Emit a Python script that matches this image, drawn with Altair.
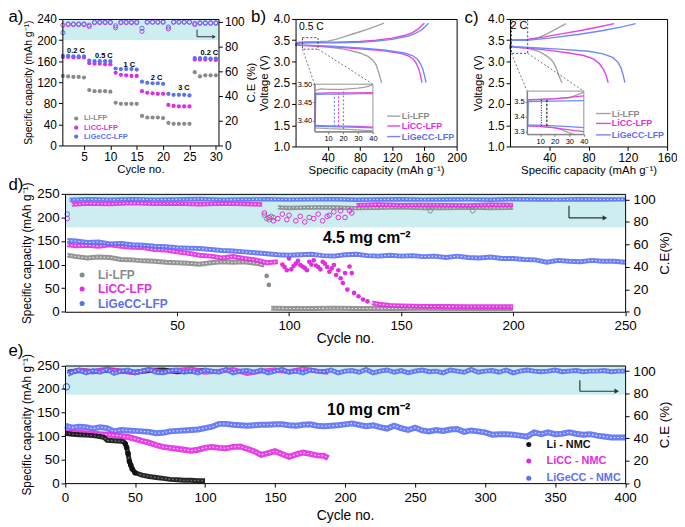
import altair as alt
import pandas as pd

FONT = "Liberation Sans"
GRAY = "#8a8a8a"
MAG = "#e12de1"
BLUE = "#5b70f2"
BLACK = "#111111"
LGRAY = "#a3a3a3"
LMAG = "#e544e5"
LBLUE = "#7189f6"
CYAN = "#cdeef0"
INK = "#333333"

# ---------------- (a) rate capability ----------------
cycles_a = list(range(1, 31))
cap_a_li = [132,131,130,130,129,105,103,103,103,102,81,79,79,79,79,56,53,53,53,52,43,41,41,41,41,139,131,133,133,133]
cap_a_licc = [168,168,167,167,167,156,155,155,154,154,138,134,133,132,132,103,100,99,98,98,77,75,74,74,74,163,163,163,163,162]
cap_a_ligecc = [170,170,169,169,169,161,160,160,160,160,146,145,145,145,144,121,119,118,118,117,98,96,96,96,95,166,166,166,165,165]
ce_a_licc = [97,97.5,97.5,97.5,97.5,96,99,99,99,99,95,99,99,99,99,92,99.5,99.5,99.5,99.5,94,99.5,99.5,99.5,99.5,97.5,98.5,98.5,98.5,98.5]
ce_a_ligecc = [91,98,98,98,98,97,99.5,99.5,99.5,99.5,96.5,99.5,99.5,99.5,99.5,94.5,99.5,99.5,99.5,99.5,95.5,99.5,99.5,99.5,99.5,98.5,99,99,99,99]
rate_labels = ["0.2 C", "0.5 C", "1 C", "2 C", "3 C", "0.2 C"]
series_lfp = ["Li-LFP", "LiCC-LFP", "LiGeCC-LFP"]
series_nmc = ["Li - NMC", "LiCC - NMC", "LiGeCC - NMC"]

# ---------------- (b) 0.5 C profiles ----------------
b_li_chg_x = [0,2,10,20,30,40,50,60,70,80,90,100,110]
b_li_chg_v = [3.36,3.44,3.46,3.465,3.47,3.48,3.52,3.58,3.64,3.70,3.76,3.83,3.90]
b_li_dis_x = [0,3,10,20,40,60,80,90,96,100,103,105,107]
b_li_dis_v = [3.42,3.39,3.38,3.37,3.34,3.29,3.20,3.12,3.03,2.92,2.75,2.62,2.50]
b_licc_chg_x = [0,3,20,50,80,100,120,135,145,152,157,160]
b_licc_chg_v = [3.38,3.45,3.45,3.455,3.47,3.50,3.55,3.61,3.68,3.76,3.85,3.90]
b_licc_dis_x = [0,5,20,50,80,110,130,140,146,150,153,155,157]
b_licc_dis_v = [3.40,3.38,3.37,3.34,3.30,3.25,3.19,3.13,3.06,2.95,2.82,2.68,2.50]
b_ligecc_chg_x = [0,3,20,50,80,100,120,140,150,157,162,165]
b_ligecc_chg_v = [3.36,3.43,3.44,3.44,3.45,3.48,3.52,3.60,3.67,3.75,3.84,3.90]
b_ligecc_dis_x = [0,5,20,50,80,110,135,145,151,155,158,160,162]
b_ligecc_dis_v = [3.41,3.39,3.38,3.355,3.32,3.27,3.20,3.14,3.06,2.95,2.82,2.68,2.50]
# inset (b)
bi_li_chg_x = [1,5,10,20,30,35,40]
bi_li_chg_v = [3.482,3.487,3.486,3.486,3.489,3.492,3.499]
bi_li_dis_x = [1,10,20,30,40]
bi_li_dis_v = [3.380,3.378,3.377,3.375,3.372]
bi_licc_chg_x = [1,1.5,10,20,30,40]
bi_licc_chg_v = [3.40,3.475,3.476,3.476,3.476,3.477]
bi_licc_dis_x = [1,10,20,30,40]
bi_licc_dis_v = [3.387,3.386,3.385,3.384,3.382]
bi_ligecc_chg_x = [1.3,1.8,10,20,30,40]
bi_ligecc_chg_v = [3.385,3.472,3.473,3.473,3.474,3.474]
bi_ligecc_dis_x = [1,10,20,30,40]
bi_ligecc_dis_v = [3.385,3.384,3.383,3.382,3.380]
bi_mark_x = [14.2, 17.0, 20.2]
bi_mark_lo = [3.384, 3.385, 3.377]
bi_mark_hi = [3.473, 3.476, 3.486]

# ---------------- (c) 2 C profiles ----------------
c_li_chg_x = [0,1,10,20,28,35,42,50,57]
c_li_chg_v = [3.30,3.50,3.51,3.52,3.55,3.62,3.70,3.80,3.89]
c_li_dis_x = [0,2,10,20,30,38,42,45,47,49,51,53]
c_li_dis_v = [3.38,3.34,3.33,3.30,3.23,3.12,3.04,2.95,2.85,2.72,2.60,2.50]
c_licc_chg_x = [0,1,17,35,55,72,90,106]
c_licc_chg_v = [3.30,3.50,3.52,3.58,3.66,3.73,3.81,3.89]
c_licc_dis_x = [0,5,20,40,60,75,85,91,95,98,100]
c_licc_dis_v = [3.36,3.34,3.31,3.26,3.20,3.14,3.06,2.95,2.82,2.67,2.50]
c_ligecc_chg_x = [0,1,17,40,71,95,115,128]
c_ligecc_chg_v = [3.30,3.50,3.50,3.55,3.64,3.73,3.82,3.89]
c_ligecc_dis_x = [0,5,20,50,80,95,105,110,113,115,117]
c_ligecc_dis_v = [3.37,3.35,3.33,3.29,3.24,3.18,3.09,2.98,2.85,2.70,2.50]
# inset (c)
ci_li_chg_x = [1,10,20,30,34,38,40]
ci_li_chg_v = [3.51,3.515,3.518,3.525,3.54,3.555,3.565]
ci_li_dis_x = [1,10,20,25,30,33]
ci_li_dis_v = [3.335,3.333,3.325,3.31,3.29,3.28]
ci_licc_chg_x = [1,10,20,30,40]
ci_licc_chg_v = [3.512,3.515,3.52,3.528,3.538]
ci_licc_dis_x = [1,10,20,30,40]
ci_licc_dis_v = [3.338,3.333,3.323,3.31,3.298]
ci_ligecc_chg_x = [1.5,1.8,10,20,30,40]
ci_ligecc_chg_v = [3.34,3.50,3.502,3.503,3.504,3.506]
ci_ligecc_dis_x = [1,10,20,30,40]
ci_ligecc_dis_v = [3.342,3.341,3.337,3.332,3.325]
ci_mark_x = [10.8, 14.6]
ci_mark_lo = [3.338, 3.336]
ci_mark_hi = [3.513, 3.515]

# ---------------- (d) 4.5 mg cm-2, LFP ----------------
d_li_cyc = [1,5,10,15,20,25,30,35,40,45,50,55,60,65,70,75,80,85,89]
d_li_cap = [120,117,114,116,115,111,110,108,107,105,104,103,101,104,106,105,106,103,99]
d_li_drop_cyc = [90, 91]
d_li_drop_cap = [76, 57]
d_li_low_cyc = [92,100,110,120,130,140,150,160,170,180,190,200]
d_li_low_cap = [7.5,7,7,7.5,7,7,7,7.5,7,7,7,7]
d_licc_cyc = [1,5,10,15,20,25,30,35,40,45,50,55,60,65,70,75,80,85,90,95]
d_licc_cap = [142,140,141,139,142,139,137,136,132,131,127,124,120,118,114,117,113,110,104,106]
d_licc_sc_cyc = [97,98,99,100,101,102,103,104,105,106,107,108,109,110,111,112,113,114,115,116,117,118,119,120,121,122,123,124,125,126,127,128,129,131,133,135]
d_licc_sc_cap = [100,95,88,113,90,97,102,108,99,96,93,88,106,100,109,98,95,90,106,102,95,85,92,99,78,88,71,61,82,47,96,82,40,33,26,22]
d_licc_low_cyc = [137,140,145,150,155,160,170,180,190,200]
d_licc_low_cap = [19,16,13.5,12.5,12,11.5,11,10.5,10.5,10.5]
d_ligecc_cyc = [1] + list(range(5, 251, 5))
d_ligecc_cap = [151,150,147,148,144,145,142,141,139,138,136,135,134,132,130,129,127,125,123,121,
                120,121,122,119,118,121,122,119,118,120,118,119,117,118,115,118,115,114,116,113,
                113,111,110,105,109,107,106,109,107,107,105]
d_ce_ligecc_first = [87]
d_ce_ligecc_cyc = [2] + list(range(10, 251, 10))
d_ce_ligecc = [99.5,100.2,99.8,100.3,99.9,100.1,100.4,99.8,100,100.2,99.9,100.1,100.3,99.8,100,100.2,
               99.9,100,100.1,99.8,100.2,100,99.9,100.3,100,100.1]
d_ce_licc_first = [83]
d_ce_licc_cyc = [3,10,20,30,40,50,60,70,80,88]
d_ce_licc = [95.5,96.5,96,96.8,96.2,96.5,95.8,96.3,96,95.5]
d_ce_licc_sc_cyc = [89,91,93,95,97,99,100,103,105,107,109,111,113,115,117,118,120,122,123,125,127,128]
d_ce_licc_sc = [88,84,81,83,87,82,86,81,85,80,84,83,87,81,85,86,89,84,90,84,90,88]
d_ce_licc2_cyc = [130,140,150,160,170,180,190,200]
d_ce_licc2 = [95,95.5,94.8,95.2,95,94.7,95.3,95]
d_ce_li_sc_cyc = [89,90,91,92,93,163,182]
d_ce_li_sc = [86,83,82,85,84,90,90]
d_ce_li_cyc = [95,100,110,120,130,140,150,160,170,180,190,200]
d_ce_li = [93,92.5,93,92.8,92.3,92.6,93,92.5,92.4,92.8,92.5,92.6]

# ---------------- (e) 10 mg cm-2, NMC ----------------
e_li_cyc = [0,5,10,15,20,25,28,30,35,40,42,43,44,45,46,47,48,50,55,60,65,70,75,80,85,90,95,100]
e_li_cap = [106,104,103,102,101,99,97,91,90,89,88,84,76,63,46,38,30,22,17,14,12,10,8,7,6,6,5,5]
e_licc_cyc = list(range(0, 186, 5)) + [188]
e_licc_cap = [108,107,107,106,105,104,103,102,100,98,94,90,86,81,77,75,73,71,69,71,
              75,77,75,74,77,78,73,68,60,64,68,62,56,61,65,62,59,58,53]
e_ligecc_cyc = list(range(0, 401, 5))
e_ligecc_cap = [122,118,120,119,116,119,117,110,113,112,111,110,109,106,107,110,111,112,113,114,
                117,120,126,126,124,123,122,123,124,124,125,125,123,122,124,125,122,121,122,123,
                125,127,124,121,123,119,116,122,117,113,118,112,110,113,111,114,115,109,112,110,
                108,103,104,104,103,101,99,108,104,108,104,105,108,105,103,104,101,99,97,97,97]
e_ce_ligecc_first = [86]
e_ce_ligecc_cyc = [2] + list(range(5, 401, 5))
e_ce_ligecc = [97,99,101,98.5,100.5,99,101.5,98,100,101,
               98.5,100,101.5,99,98.5,100.5,101,99,100,98.5,
               101,100,99,101.5,98.5,100,100.5,99,101,98.5,
               100,101.5,99,100,98.5,101,100,99.5,101,98.5,
               100,100.5,99,101.5,98.5,100,101,99,100.5,98.5,
               100,101,99.5,100,98.5,101,100,99,101.5,99,
               100,100.5,99,101,98.5,100,101,100,99.5,100,
               101,99.5,100,100.5,99.5,100,100,100.5,99.5,100,
               100]
e_ce_licc_cyc = [2] + list(range(10, 181, 10)) + [188]
e_ce_licc = [98,101,99.5,102,100,98.5,101.5,99,100.5,102,99,100,101.5,98,100,101,99.5,102,100,99]
e_ce_li_cyc = [2,10,20,30,40,50,60,70,80,90,100]
e_ce_li = [99,100.5,99.5,101,100,99,100.5,101,99.5,100,100.5]

# ---------------- layout helpers ----------------
M = 8
W, H = 677, 519


def S(dom, r0, r1):
    return alt.Scale(domain=list(dom), range=[r0 - M, r1 - M], nice=False, zero=False)


def off(orient, pos):
    p = pos - M
    return {"left": -p, "top": -p, "right": p - W, "bottom": p - H}[orient]


AX = dict(grid=False, zindex=1, domainColor="black", tickColor="black", labelColor="black",
          titleColor="black", labelFont=FONT, titleFont=FONT, titleFontWeight="normal",
          labelFlush=False, tickSize=4, labelPadding=2)


def axis(orient, pos, **kw):
    d = dict(AX)
    d.update(kw)
    return alt.Axis(orient=orient, offset=off(orient, pos), **d)


def frame(orient, pos):
    return axis(orient, pos, labels=False, ticks=False, title=None)


def guide(sx, sy, xd, yd, xa=None, ya=None):
    df = pd.DataFrame({"gx": [xd[0], xd[-1]], "gy": [yd[0], yd[-1]]})
    return alt.Chart(df).mark_point(opacity=0).encode(
        x=alt.X("gx:Q", scale=sx, axis=xa), y=alt.Y("gy:Q", scale=sy, axis=ya))


def pts(xs, ys, sx, sy, color, size=20, filled=True, sw=1.0):
    df = pd.DataFrame({"x": xs, "y": ys})
    return alt.Chart(df).mark_point(filled=filled, size=size, color=color, strokeWidth=sw,
                                    opacity=1, shape="circle").encode(
        x=alt.X("x:Q", scale=sx, axis=None), y=alt.Y("y:Q", scale=sy, axis=None))


def line(xs, ys, sx, sy, color, width=1.5, dash=None, opacity=1.0):
    df = pd.DataFrame({"x": xs, "y": ys, "o": list(range(len(xs)))})
    kw = dict(color=color, strokeWidth=width, opacity=opacity)
    if dash:
        kw["strokeDash"] = dash
    return alt.Chart(df).mark_line(**kw).encode(
        x=alt.X("x:Q", scale=sx, axis=None), y=alt.Y("y:Q", scale=sy, axis=None), order="o:Q")


def band(xs, ys, sx, sy, color, width=5, inner="white"):
    return [line(xs, ys, sx, sy, color, width, opacity=0.9),
            line(xs, ys, sx, sy, inner, 1.1, dash=[1.5, 2.2], opacity=0.8)]


def rect(x0, x1, y0, y1, sx, sy, **mk):
    df = pd.DataFrame({"x": [x0], "x2": [x1], "y": [y0], "y2": [y1]})
    return alt.Chart(df).mark_rect(**mk).encode(
        x=alt.X("x:Q", scale=sx, axis=None), x2="x2:Q",
        y=alt.Y("y:Q", scale=sy, axis=None), y2="y2:Q")


def vrules(xs, lo, hi, sx, sy, colors, dash):
    df = pd.DataFrame({"x": xs, "y": lo, "y2": hi, "c": colors})
    return alt.Chart(df).mark_rule(strokeWidth=1, strokeDash=dash).encode(
        x=alt.X("x:Q", scale=sx, axis=None), y=alt.Y("y:Q", scale=sy, axis=None), y2="y2:Q",
        color=alt.Color("c:N", scale=None))


def connect(xd, yd, sx, sy, px2, py2):
    df = pd.DataFrame({"x": [xd], "y": [yd]})
    return alt.Chart(df).mark_rule(color="#555", strokeDash=[2, 2], strokeWidth=0.8).encode(
        x=alt.X("x:Q", scale=sx, axis=None), y=alt.Y("y:Q", scale=sy, axis=None),
        x2=alt.value(px2 - M), y2=alt.value(py2 - M))


def ptext(rows, size, weight="normal", align="left"):
    df = pd.DataFrame(rows, columns=["x", "y", "t", "c"])
    df["x"] = df["x"] - M
    df["y"] = df["y"] - M
    return alt.Chart(df).mark_text(font=FONT, fontSize=size, fontWeight=weight, align=align,
                                   baseline="middle").encode(
        x=alt.X("x:Q", scale=None, axis=None), y=alt.Y("y:Q", scale=None, axis=None),
        text="t:N", color=alt.Color("c:N", scale=None))


def prules(rows, width=1.0):
    df = pd.DataFrame(rows, columns=["x", "y", "x2", "y2", "c"])
    for k in ["x", "y", "x2", "y2"]:
        df[k] = df[k] - M
    return alt.Chart(df).mark_rule(strokeWidth=width).encode(
        x=alt.X("x:Q", scale=None, axis=None), y=alt.Y("y:Q", scale=None, axis=None),
        x2="x2:Q", y2="y2:Q", color=alt.Color("c:N", scale=None))


def pmarks(rows, shape="circle", size=20, filled=True):
    df = pd.DataFrame(rows, columns=["x", "y", "c"])
    df["x"] = df["x"] - M
    df["y"] = df["y"] - M
    return alt.Chart(df).mark_point(shape=shape, size=size, filled=filled, opacity=1).encode(
        x=alt.X("x:Q", scale=None, axis=None), y=alt.Y("y:Q", scale=None, axis=None),
        color=alt.Color("c:N", scale=None))


layers = []

# ================= panel a =================
XA = S([0.9, 30.5], 63, 221)
YA = S([0, 240], 144, 16)
CEA = S([0, 102], 144, 16)
layers.append(rect(0.9, 30.5, 200, 240, XA, YA, color=CYAN))
layers.append(guide(XA, YA, [0.9, 30.5], [0, 240],
                    xa=axis("bottom", 144, values=[5, 10, 15, 20, 25, 30], title="Cycle no.",
                            labelFontSize=12, titleFontSize=11.5, titlePadding=1),
                    ya=axis("left", 63, values=[0, 40, 80, 120, 160, 200, 240],
                            title="Specific capacity (mAh g⁻¹)", labelFontSize=12,
                            titleFontSize=10.5, titlePadding=3)))
layers.append(guide(XA, CEA, [0.9, 30.5], [0, 102], xa=frame("top", 16),
                    ya=axis("right", 221, values=[0, 20, 40, 60, 80, 100], title="C.E (%)",
                            labelFontSize=12, titleFontSize=11.5, titlePadding=1, titleAngle=270,
                            titleBaseline="top")))
layers.append(pts(cycles_a, cap_a_li, XA, YA, GRAY, size=18))
layers.append(pts(cycles_a, cap_a_licc, XA, YA, MAG, size=18))
layers.append(pts(cycles_a, cap_a_ligecc, XA, YA, BLUE, size=18))
layers.append(pts(cycles_a, ce_a_licc, XA, CEA, MAG, size=18, filled=False))
layers.append(pts(cycles_a, ce_a_ligecc, XA, CEA, BLUE, size=18, filled=False))
layers.append(ptext([(76.7, 48.3, rate_labels[0], "black"), (105, 53.3, rate_labels[1], "black"),
                     (130.7, 62.7, rate_labels[2], "black"), (158.3, 76, rate_labels[3], "black"),
                     (186, 86, rate_labels[4], "black"), (211.7, 50, rate_labels[5], "black")],
                    7.5, "bold", "center"))
layers.append(pmarks([(77, 116.7, GRAY), (77, 126, MAG), (77, 135, BLUE)], size=18))
layers.append(ptext([(85, 116.7, series_lfp[0], GRAY), (85, 126, series_lfp[1], MAG),
                     (85, 135, series_lfp[2], BLUE)], 7.5, "bold"))
layers.append(prules([(199.3, 26.7, 199.3, 34, INK), (199.3, 34, 215, 34, INK)], 1.0))
layers.append(pmarks([(216.5, 34, INK)], shape="triangle-right", size=16))

# ================= panel b =================
XB = S([0, 200], 299, 462)
YB = S([1, 4], 145, 16)
XBI = S([1, 40], 318.3, 377.3)
YBI = S([3.37, 3.50], 130, 82)
layers.append(guide(XB, YB, [0, 200], [1, 4],
                    xa=axis("bottom", 145, values=[40, 80, 120, 160, 200],
                            title="Specific capacity (mAh g⁻¹)", labelFontSize=12,
                            titleFontSize=11.5, titlePadding=1),
                    ya=axis("left", 299, values=[1.0, 1.5, 2.0, 2.5, 3.0, 3.5, 4.0], format=".1f",
                            title="Voltage (V)", labelFontSize=12, titleFontSize=11.5,
                            titlePadding=4)))
layers.append(guide(XB, YB, [0, 200], [1, 4], xa=frame("top", 16), ya=frame("right", 462)))
for xs, vs, c in [(b_li_chg_x, b_li_chg_v, LGRAY), (b_li_dis_x, b_li_dis_v, LGRAY),
                  (b_licc_chg_x, b_licc_chg_v, LMAG), (b_licc_dis_x, b_licc_dis_v, LMAG),
                  (b_ligecc_chg_x, b_ligecc_chg_v, LBLUE), (b_ligecc_dis_x, b_ligecc_dis_v, LBLUE)]:
    layers.append(line(xs, vs, XB, YB, c, 1.4))
layers.append(rect(8.6, 27.9, 3.29, 3.56, XB, YB, fillOpacity=0, stroke="#444",
                   strokeDash=[2, 2], strokeWidth=1))
layers.append(connect(8.6, 3.29, XB, YB, 318.3, 82))
layers.append(connect(27.9, 3.29, XB, YB, 377.3, 82))
layers.append(rect(1, 40, 3.37, 3.50, XBI, YBI, fill="white", stroke="#777", strokeWidth=0.8))
layers.append(guide(XBI, YBI, [1, 40], [3.37, 3.50],
                    xa=axis("bottom", 130, values=[10, 20, 30, 40], title=None, labelFontSize=7.5,
                            tickSize=2, labelPadding=1, domainColor="#777", tickColor="#777"),
                    ya=axis("left", 318.3, values=[3.40, 3.45, 3.50], format=".2f", title=None,
                            labelFontSize=7.5, tickSize=2, labelPadding=1, domainColor="#777",
                            tickColor="#777")))
for xs, vs, c in [(bi_li_chg_x, bi_li_chg_v, LGRAY), (bi_li_dis_x, bi_li_dis_v, LGRAY),
                  (bi_licc_chg_x, bi_licc_chg_v, LMAG), (bi_licc_dis_x, bi_licc_dis_v, LMAG),
                  (bi_ligecc_chg_x, bi_ligecc_chg_v, LBLUE), (bi_ligecc_dis_x, bi_ligecc_dis_v, LBLUE)]:
    layers.append(line(xs, vs, XBI, YBI, c, 1.3))
layers.append(vrules(bi_mark_x, bi_mark_lo, bi_mark_hi, XBI, YBI, [BLUE, MAG, "#777"], [2, 2]))
layers.append(ptext([(315, 24, "0.5 C", "black")], 10.5, "normal", "center"))
layers.append(prules([(391.7, 114.3, 405, 114.3, LGRAY), (391.7, 124.3, 405, 124.3, LMAG),
                      (391.7, 135, 405, 135, LBLUE)], 1.4))
layers.append(ptext([(406.5, 114.3, series_lfp[0], GRAY), (406.5, 124.3, series_lfp[1], MAG),
                     (406.5, 135, series_lfp[2], BLUE)], 9, "bold"))

# ================= panel c =================
XC = S([0, 160], 516, 675)
YC = S([1, 4], 145, 16)
XCI = S([1, 40], 533.3, 590.7)
YCI = S([3.28, 3.57], 132.7, 89)
layers.append(guide(XC, YC, [0, 160], [1, 4],
                    xa=axis("bottom", 145, values=[40, 80, 120, 160],
                            title="Specific capacity (mAh g⁻¹)", labelFontSize=12,
                            titleFontSize=11.5, titlePadding=1),
                    ya=axis("left", 516, values=[1.0, 1.5, 2.0, 2.5, 3.0, 3.5, 4.0], format=".1f",
                            title="Voltage (V)", labelFontSize=12, titleFontSize=11.5,
                            titlePadding=4)))
layers.append(guide(XC, YC, [0, 160], [1, 4], xa=frame("top", 16), ya=frame("right", 675)))
for xs, vs, c in [(c_li_chg_x, c_li_chg_v, LGRAY), (c_li_dis_x, c_li_dis_v, LGRAY),
                  (c_licc_chg_x, c_licc_chg_v, LMAG), (c_licc_dis_x, c_licc_dis_v, LMAG),
                  (c_ligecc_chg_x, c_ligecc_chg_v, LBLUE), (c_ligecc_dis_x, c_ligecc_dis_v, LBLUE)]:
    layers.append(line(xs, vs, XC, YC, c, 1.4))
layers.append(rect(1.5, 18, 3.19, 3.98, XC, YC, fillOpacity=0, stroke="#444",
                   strokeDash=[2, 2], strokeWidth=1))
layers.append(connect(1.5, 3.19, XC, YC, 533.3, 89))
layers.append(connect(18, 3.19, XC, YC, 590.7, 89))
layers.append(rect(1, 40, 3.28, 3.57, XCI, YCI, fill="white", stroke="#777", strokeWidth=0.8))
layers.append(guide(XCI, YCI, [1, 40], [3.28, 3.57],
                    xa=axis("bottom", 132.7, values=[10, 20, 30, 40], title=None, labelFontSize=7.5,
                            tickSize=2, labelPadding=1, domainColor="#777", tickColor="#777"),
                    ya=axis("left", 533.3, values=[3.3, 3.4, 3.5], format=".1f", title=None,
                            labelFontSize=7.5, tickSize=2, labelPadding=1, domainColor="#777",
                            tickColor="#777")))
for xs, vs, c in [(ci_li_chg_x, ci_li_chg_v, LGRAY), (ci_li_dis_x, ci_li_dis_v, LGRAY),
                  (ci_licc_chg_x, ci_licc_chg_v, LMAG), (ci_licc_dis_x, ci_licc_dis_v, LMAG),
                  (ci_ligecc_chg_x, ci_ligecc_chg_v, LBLUE), (ci_ligecc_dis_x, ci_ligecc_dis_v, LBLUE)]:
    layers.append(line(xs, vs, XCI, YCI, c, 1.3))
layers.append(vrules(ci_mark_x[:1], ci_mark_lo[:1], ci_mark_hi[:1], XCI, YCI, ["black"], [1, 1.5]))
layers.append(vrules(ci_mark_x[1:], ci_mark_lo[1:], ci_mark_hi[1:], XCI, YCI, ["black"], [2.5, 1.5]))
layers.append(ptext([(525, 23, "2 C", "black")], 11, "normal", "center"))
layers.append(prules([(603, 111.7, 618, 111.7, LGRAY), (603, 121.7, 618, 121.7, LMAG),
                      (603, 133.3, 618, 133.3, LBLUE)], 1.4))
layers.append(ptext([(619, 111.7, series_lfp[0], GRAY), (619, 121.7, series_lfp[1], MAG),
                     (619, 133.3, series_lfp[2], BLUE)], 9, "bold"))

# ================= panel d =================
XD = S([0, 250], 65.7, 632.5)
YD = S([0, 250], 312.3, 193)
CED = S([0, 105], 312.3, 193)
layers.append(rect(0, 250, 75, 105, XD, CED, color=CYAN))
layers.append(guide(XD, YD, [0, 250], [0, 250],
                    xa=axis("bottom", 312.3, values=[50, 100, 150, 200, 250], title="Cycle no.",
                            labelFontSize=13.5, titleFontSize=14, titlePadding=0, labelPadding=3),
                    ya=axis("left", 65.7, values=[0, 50, 100, 150, 200, 250],
                            title="Specific capacity (mAh g⁻¹)", labelFontSize=13.5,
                            titleFontSize=12, titlePadding=3)))
layers.append(guide(XD, CED, [0, 250], [0, 105], xa=frame("top", 193),
                    ya=axis("right", 632.5, values=[0, 20, 40, 60, 80, 100], title="C.E(%)",
                            labelFontSize=13.5, titleFontSize=13.5, titlePadding=2, titleAngle=270,
                            titleBaseline="top", labelPadding=4)))
# CE (top band)
layers += band(d_ce_li_cyc, d_ce_li, XD, CED, GRAY, 4.5)
layers.append(pts(d_ce_li_sc_cyc, d_ce_li_sc, XD, CED, GRAY, size=22, filled=False))
layers += band(d_ce_licc_cyc, d_ce_licc, XD, CED, MAG, 4.5)
layers += band(d_ce_licc2_cyc, d_ce_licc2, XD, CED, MAG, 4.5)
layers.append(pts(d_ce_licc_sc_cyc, d_ce_licc_sc, XD, CED, MAG, size=22, filled=False))
layers.append(pts([1], d_ce_licc_first, XD, CED, MAG, size=22, filled=False))
layers += band(d_ce_ligecc_cyc, d_ce_ligecc, XD, CED, BLUE, 4.5)
layers.append(pts([1], d_ce_ligecc_first, XD, CED, BLUE, size=22, filled=False))
# capacity
layers += band(d_li_cyc, d_li_cap, XD, YD, GRAY, 5)
layers.append(pts(d_li_drop_cyc, d_li_drop_cap, XD, YD, GRAY, size=22))
layers += band(d_li_low_cyc, d_li_low_cap, XD, YD, GRAY, 5)
layers += band(d_licc_cyc, d_licc_cap, XD, YD, MAG, 5)
layers.append(pts(d_licc_sc_cyc, d_licc_sc_cap, XD, YD, MAG, size=22))
layers += band(d_licc_low_cyc, d_licc_low_cap, XD, YD, MAG, 5)
layers += band(d_ligecc_cyc, d_ligecc_cap, XD, YD, BLUE, 5)
layers.append(ptext([(371, 238, "4.5 mg cm⁻²", "black")], 16, "bold", "center"))
layers.append(pmarks([(83, 275, GRAY), (83, 289.3, MAG), (83, 304, BLUE)], size=26))
layers.append(ptext([(99, 275, series_lfp[0], GRAY), (99, 289.3, series_lfp[1], MAG),
                     (99, 304, series_lfp[2], BLUE)], 12, "bold"))
layers.append(prules([(575.7, 205, 575.7, 217.3, INK), (575.7, 217.3, 610, 217.3, INK)], 1.2))
layers.append(pmarks([(612, 217.3, INK)], shape="triangle-right", size=28))

# ================= panel e =================
XE = S([0, 400], 65.7, 632.5)
YE = S([0, 250], 485.7, 366.7)
CEE = S([0, 105], 485.7, 366.7)
layers.append(rect(0, 400, 79, 105, XE, CEE, color=CYAN))
layers.append(guide(XE, YE, [0, 400], [0, 250],
                    xa=axis("bottom", 485.7, values=[0, 50, 100, 150, 200, 250, 300, 350, 400],
                            title="Cycle no.", labelFontSize=13.5, titleFontSize=14, titlePadding=4,
                            labelPadding=4),
                    ya=axis("left", 65.7, values=[0, 50, 100, 150, 200, 250],
                            title="Specific capacity (mAh g⁻¹)", labelFontSize=13.5,
                            titleFontSize=12, titlePadding=3)))
layers.append(guide(XE, CEE, [0, 400], [0, 105], xa=frame("top", 366.7),
                    ya=axis("right", 632.5, values=[0, 20, 40, 60, 80, 100], title="C.E (%)",
                            labelFontSize=13.5, titleFontSize=13.5, titlePadding=2, titleAngle=270,
                            titleBaseline="top", labelPadding=4)))
layers += band(e_ce_li_cyc, e_ce_li, XE, CEE, BLACK, 5, inner="#888")
layers += band(e_ce_licc_cyc, e_ce_licc, XE, CEE, MAG, 5)
layers += band(e_ce_ligecc_cyc, e_ce_ligecc, XE, CEE, BLUE, 5)
layers.append(pts([1], e_ce_ligecc_first, XE, CEE, BLUE, size=40, filled=False, sw=1.2))
layers += band(e_ligecc_cyc, e_ligecc_cap, XE, YE, BLUE, 6)
layers += band(e_licc_cyc, e_licc_cap, XE, YE, MAG, 6)
layers += band(e_li_cyc, e_li_cap, XE, YE, BLACK, 5, inner="#999")
layers.append(pts(e_li_cyc[11:18], e_li_cap[11:18], XE, YE, BLACK, size=30))
layers.append(ptext([(373, 412, "10 mg cm⁻²", "black")], 16, "bold", "center"))
layers.append(pmarks([(535, 446.7, BLACK), (535, 463.3, MAG), (535, 480.7, BLUE)], size=26))
layers.append(ptext([(553, 446.7, series_nmc[0], BLACK), (553, 463.3, series_nmc[1], MAG),
                     (553, 480.7, series_nmc[2], BLUE)], 11, "bold"))
layers.append(prules([(586.7, 381.7, 586.7, 392.7, INK), (586.7, 392.7, 622, 392.7, INK)], 1.2))
layers.append(pmarks([(624, 392.7, INK)], shape="triangle-right", size=28))

# ================= panel letters =================
layers.append(ptext([(8.5, 14, "a)", "black"), (254, 14, "b)", "black"), (470, 15, "c)", "black"),
                     (8.5, 184, "d)", "black"), (8.5, 352, "e)", "black")], 17, "normal", "left"))

chart = alt.layer(*layers).resolve_scale(x="independent", y="independent").properties(
    width=W, height=H, autosize=alt.AutoSizeParams(type="none"), padding=0
).configure_view(stroke=None)

chart.save("out.html", embed_options={"renderer": "svg", "actions": False})
